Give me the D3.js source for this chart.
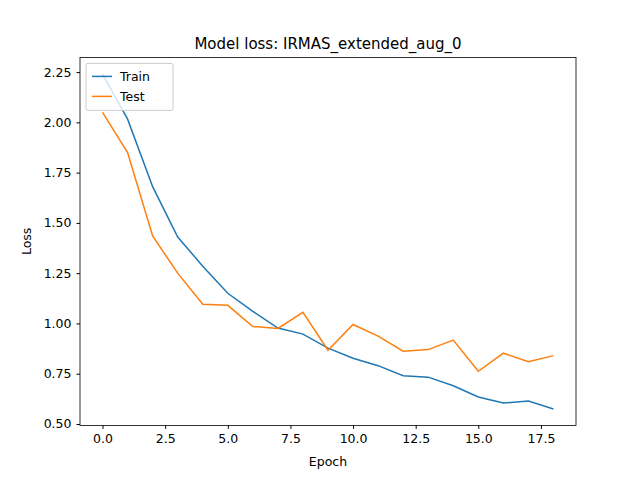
<!DOCTYPE html>
<html><head><meta charset="utf-8">
<script src="https://cdn.jsdelivr.net/npm/d3@7"></script>
<style>body{margin:0;background:#fff}text{font-family:"DejaVu Sans",sans-serif}</style>
</head><body><svg id="c" width="640" height="478"></svg>
<script>
var epochs = d3.range(19);
var train = [2.24,2.016,1.68,1.43,1.285,1.15,1.06,0.977,0.947,0.877,0.827,0.79,0.74,0.733,0.69,0.634,0.604,0.614,0.575];
var test = [2.05,1.85,1.435,1.25,1.095,1.09,0.985,0.975,1.055,0.867,0.995,0.937,0.862,0.87,0.917,0.762,0.852,0.81,0.84];
var xTicks = [0,2.5,5,7.5,10,12.5,15,17.5];
var yTicks = [0.5,0.75,1,1.25,1.5,1.75,2,2.25];

var svg = d3.select("#c");
var L = 80, R = 576, T = 57.4, B = 425.4;
var x = d3.scaleLinear().domain([-0.9, 18.9]).range([L, R]);
var y = d3.scaleLinear().domain([0.493, 2.323]).range([B, T]);

svg.append("g").attr("transform", `translate(0,${B})`)
  .call(d3.axisBottom(x).tickValues(xTicks).tickFormat(d3.format(".1f")).tickSizeOuter(0).tickSize(3.5).tickPadding(5))
  .call(g => g.select(".domain").remove());
svg.append("g").attr("transform", `translate(${L},0)`)
  .call(d3.axisLeft(y).tickValues(yTicks).tickFormat(d3.format(".2f")).tickSizeOuter(0).tickSize(3.5).tickPadding(5))
  .call(g => g.select(".domain").remove());
svg.selectAll(".tick text").attr("font-size", 12.5).attr("fill", "#000");

var line = d3.line().x((d, i) => x(epochs[i])).y(d => y(d));
svg.append("path").datum(train).attr("d", line).attr("fill", "none").attr("stroke", "#1f77b4").attr("stroke-width", 1.5);
svg.append("path").datum(test).attr("d", line).attr("fill", "none").attr("stroke", "#ff7f0e").attr("stroke-width", 1.5);

svg.append("rect").attr("x", L).attr("y", T).attr("width", R - L).attr("height", B - T)
  .attr("fill", "none").attr("stroke", "#000").attr("stroke-width", 0.8);

svg.append("text").attr("x", (L + R) / 2).attr("y", T - 8).attr("text-anchor", "middle").attr("font-size", 15).text("Model loss: IRMAS_extended_aug_0");
svg.append("text").attr("x", (L + R) / 2).attr("y", 466).attr("text-anchor", "middle").attr("font-size", 12.5).text("Epoch");
svg.append("text").attr("transform", `translate(31,${(T + B) / 2}) rotate(-90)`).attr("text-anchor", "middle").attr("font-size", 12.5).text("Loss");

var lg = svg.append("g").attr("transform", `translate(${L + 6},${T + 6})`);
lg.append("rect").attr("width", 87).attr("height", 47).attr("rx", 2).attr("fill", "#fff").attr("fill-opacity", 0.8).attr("stroke", "#ccc");
[["Train", "#1f77b4"], ["Test", "#ff7f0e"]].forEach(function (s, i) {
  var yy = 13 + i * 20;
  lg.append("line").attr("x1", 6).attr("x2", 26).attr("y1", yy).attr("y2", yy).attr("stroke", s[1]).attr("stroke-width", 1.5);
  lg.append("text").attr("x", 34).attr("y", yy + 4.5).attr("font-size", 12.5).text(s[0]);
});
</script></body></html>
